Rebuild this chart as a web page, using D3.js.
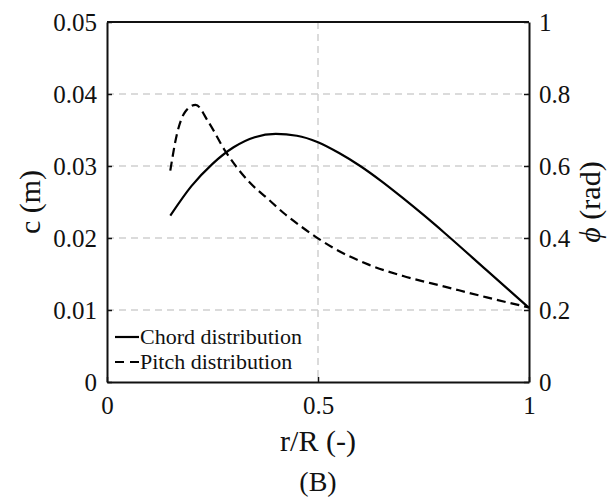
<!DOCTYPE html>
<html><head><meta charset="utf-8">
<script src="https://cdn.jsdelivr.net/npm/d3@7"></script>
<style>body{margin:0;background:#fff} svg text{font-family:"Liberation Serif","DejaVu Serif",serif;}</style>
</head><body>
<svg id="c" width="612" height="500"></svg>
<script>
const chordR = [0.15,0.2,0.25,0.3,0.35,0.4,0.45,0.5,0.55,0.6,0.65,0.7,0.75,0.8,0.9,1.0];
const chordC = [0.0231,0.0272,0.0303,0.0326,0.0340,0.03445,0.0342,0.0333,0.0318,0.0300,0.0279,0.0256,0.0232,0.0207,0.0155,0.0103];
const pitchR = [0.15,0.165,0.185,0.21,0.24,0.28,0.34,0.38,0.42,0.46,0.5,0.54,0.62,0.7,0.8,0.9,1.0];
const pitchPhi = [0.587,0.685,0.75,0.77,0.723,0.642,0.552,0.51,0.468,0.432,0.399,0.37,0.326,0.295,0.265,0.235,0.207];
const xTicks = [0,0.5,1];
const xTickLabels = ["0","0.5","1"];
const yLeftTicks = [0,0.01,0.02,0.03,0.04,0.05];
const yLeftLabels = ["0","0.01","0.02","0.03","0.04","0.05"];
const yRightTicks = [0,0.2,0.4,0.6,0.8,1];
const yRightLabels = ["0","0.2","0.4","0.6","0.8","1"];
const legendLabels = ["Chord distribution","Pitch distribution"];

const svg = d3.select("#c");
const L=107,R=529,T=22,B=382;
const FF = '"Liberation Serif","DejaVu Serif",serif';
const x = d3.scaleLinear().domain([0,1]).range([L,R]);
const yL = d3.scaleLinear().domain([0,0.05]).range([B,T]);
const yR = d3.scaleLinear().domain([0,1]).range([B,T]);

// grid
const g = svg.append("g");
g.selectAll("line.h").data(yLeftTicks.slice(1,-1)).enter().append("line")
  .attr("x1",L).attr("x2",R).attr("y1",d=>yL(d)).attr("y2",d=>yL(d))
  .attr("stroke","#cfcfcf").attr("stroke-width",1.5).attr("stroke-dasharray","7,5");
g.selectAll("line.v").data(xTicks.slice(1,-1)).enter().append("line")
  .attr("x1",d=>x(d)).attr("x2",d=>x(d)).attr("y1",T).attr("y2",B)
  .attr("stroke","#cfcfcf").attr("stroke-width",1.5).attr("stroke-dasharray","7,5");

// axes via d3
const axL = d3.axisLeft(yL).tickValues(yLeftTicks).tickFormat((d,i)=>yLeftLabels[i]).tickSizeInner(-5).tickSizeOuter(0).tickPadding(10);
const axR = d3.axisRight(yR).tickValues(yRightTicks).tickFormat((d,i)=>yRightLabels[i]).tickSizeInner(-5).tickSizeOuter(0).tickPadding(10);
const axB = d3.axisBottom(x).tickValues(xTicks).tickFormat((d,i)=>xTickLabels[i]).tickSizeInner(-5).tickSizeOuter(0).tickPadding(14);
function style(sel){
  sel.attr("font-family",null).attr("font-size",null);
  sel.select(".domain").attr("stroke","#111").attr("stroke-width",2);
  sel.selectAll(".tick line").attr("stroke","#111").attr("stroke-width",1.5);
  sel.selectAll(".tick text").style("font-family",FF).style("font-size","25px").attr("fill","#111");
}
svg.append("g").attr("transform",`translate(${L},0)`).call(axL).call(style);
svg.append("g").attr("transform",`translate(${R},0)`).call(axR).call(style);
svg.append("g").attr("transform",`translate(0,${B})`).call(axB).call(style);
svg.append("line").attr("x1",L).attr("x2",R).attr("y1",T).attr("y2",T).attr("stroke","#111").attr("stroke-width",2);

// lines
const chord = chordR.map((r,i)=>[r,chordC[i]]);
const pitch = pitchR.map((r,i)=>[r,pitchPhi[i]]);
svg.append("path").datum(chord)
  .attr("d",d3.line().x(d=>x(d[0])).y(d=>yL(d[1])).curve(d3.curveMonotoneX))
  .attr("fill","none").attr("stroke","#000").attr("stroke-width",2.2);
svg.append("path").datum(pitch)
  .attr("d",d3.line().x(d=>x(d[0])).y(d=>yR(d[1])).curve(d3.curveMonotoneX))
  .attr("fill","none").attr("stroke","#000").attr("stroke-width",2.2).attr("stroke-dasharray","9,5");

// labels
function txt(sel,size){return sel.style("font-family",FF).style("font-size",size+"px").attr("fill","#111");}
txt(svg.append("text").attr("x",(L+R)/2).attr("y",451).attr("text-anchor","middle"),30).text("r/R (-)");
txt(svg.append("text").attr("x",(L+R)/2).attr("y",491).attr("text-anchor","middle"),28).text("(B)");
txt(svg.append("text").attr("transform",`translate(40,${(T+B)/2}) rotate(-90)`).attr("text-anchor","middle"),30).text("c (m)");
const rl = txt(svg.append("text").attr("transform",`translate(600,${(T+B)/2}) rotate(-90)`).attr("text-anchor","middle"),30);
rl.append("tspan").style("font-style","italic").text("ϕ");
rl.append("tspan").text(" (rad)");

// legend
const leg = svg.append("g");
const ly = [337,362];
leg.selectAll("line").data(legendLabels).enter().append("line")
  .attr("x1",115).attr("x2",139).attr("y1",(d,i)=>ly[i]).attr("y2",(d,i)=>ly[i])
  .attr("stroke","#000").attr("stroke-width",2.2)
  .attr("stroke-dasharray",(d,i)=>i===1?"9,6":null);
leg.selectAll("text").data(legendLabels).enter().append("text")
  .attr("x",140).attr("y",(d,i)=>ly[i]+7)
  .style("font-family",FF).style("font-size","22px").attr("fill","#111")
  .text(d=>d);
</script>
</body></html>
